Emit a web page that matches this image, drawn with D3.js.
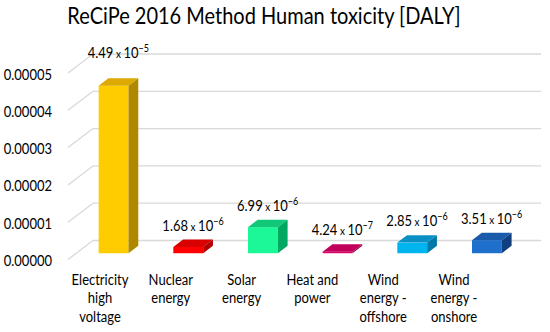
<!DOCTYPE html>
<html>
<head>
<meta charset="utf-8">
<script src="https://cdn.jsdelivr.net/npm/d3@7"></script>
<style>
    body { margin: 0; background: #fff; }
    text { font-family: Lato, "Noto Sans", sans-serif; fill: #000; }
</style>
</head>
<body>
<svg id="chart" width="550" height="332"></svg>
<script>
'use strict';

// data
let categories = ["Electricity high voltage", "Nuclear energy", "Solar energy",
    "Heat and power", "Wind energy - offshore", "Wind energy - onshore"]
let categoryLines = [["Electricity", "high", "voltage"], ["Nuclear", "energy"], ["Solar", "energy"],
    ["Heat and", "power"], ["Wind", "energy -", "offshore"], ["Wind", "energy -", "onshore"]]
let values = [4.49e-5, 1.68e-6, 6.99e-6, 4.24e-7, 2.85e-6, 3.51e-6]
let mantissas = ["4.49", "1.68", "6.99", "4.24", "2.85", "3.51"]
let exponents = ["−5", "−6", "−6", "−7", "−6", "−6"]
let yTicks = [0, 0.00001, 0.00002, 0.00003, 0.00004, 0.00005]

// front, top, side colours per bar
let colors = [
    ["#ffcc00", "#dcaa00", "#b08800"],
    ["#ff0000", "#d80000", "#b00000"],
    ["#1cf898", "#10c878", "#00a862"],
    ["#e0006a", "#c0005a", "#a0004a"],
    ["#00b4f0", "#0a90c4", "#0078a8"],
    ["#1f70cc", "#1a5aaa", "#103f80"]
]

let svg = d3.select("#chart")

// the picture's text is a bit taller than wide, stretch it about its baseline
let stretch = 1.2
function stretchText(sel) {
    sel.attr("transform", function() {
        let by = +d3.select(this).attr("y") || 0
        return "translate(0," + by + ") scale(1," + stretch + ") translate(0," + (-by) + ")"
    })
}

// 3d depth vector of the plot box
let depthX = 25
let depthY = -19
let barFront = 0.33
let barBack = 0.72

let x = d3.scaleBand()
    .domain(categories)
    .range([68, 516])
    .paddingInner(0.6)
    .paddingOuter(0.3)

let y = d3.scaleLinear()
    .domain([0, 0.00005])
    .range([259.5, 73])

let labelX = d3.scalePoint()
    .domain(categories)
    .range([100, 454])

// title
svg.append("text")
    .attr("x", 264)
    .attr("y", 24)
    .attr("text-anchor", "middle")
    .style("font-size", "20px")
    .text("ReCiPe 2016 Method Human toxicity [DALY]")
    .call(stretchText)

// back wall gridlines and left wall diagonals
let grid = svg.append("g").attr("class", "grid")
grid.selectAll("line.back")
    .data(yTicks)
    .enter().append("line")
    .attr("class", "back")
    .attr("x1", 68 + depthX)
    .attr("x2", 541)
    .attr("y1", function(d) { return y(d) + depthY; })
    .attr("y2", function(d) { return y(d) + depthY; })
    .attr("stroke", "#d9d9d9")
    .attr("stroke-width", 1.3)

grid.selectAll("line.side")
    .data(yTicks)
    .enter().append("line")
    .attr("class", "side")
    .attr("x1", 68)
    .attr("x2", 68 + depthX)
    .attr("y1", function(d) { return y(d); })
    .attr("y2", function(d) { return y(d) + depthY; })
    .attr("stroke", "#d9d9d9")
    .attr("stroke-width", 1.3)

// y axis labels
let yAxis = d3.axisLeft(y)
    .tickValues(yTicks)
    .tickFormat(d3.format(".5f"))
    .tickSize(0)
    .tickPadding(0)

let axisG = svg.append("g")
    .attr("transform", "translate(52,1)")
    .call(yAxis)
axisG.select(".domain").remove()
axisG.selectAll("text")
    .style("font-family", "Lato, 'Noto Sans', sans-serif")
    .style("font-size", "13px")
    .attr("fill", "#000")
    .attr("transform", "scale(1," + stretch + ")")

// bars
let bars = svg.append("g").attr("class", "bars")
    .selectAll("g")
    .data(categories)
    .enter().append("g")

function pt(px, py) { return px + "," + py; }

bars.each(function(c, i) {
    let g = d3.select(this)
    let x1 = x(c) + depthX * barFront
    let x2 = x1 + x.bandwidth()
    let yb = y(0) + depthY * barFront
    let yt = y(values[i]) + depthY * barFront
    let dx = depthX * (barBack - barFront)
    let dy = depthY * (barBack - barFront)

    g.append("polygon")
        .attr("points", [pt(x1, yt), pt(x2, yt), pt(x2, yb), pt(x1, yb)].join(" "))
        .attr("fill", colors[i][0])
    g.append("polygon")
        .attr("points", [pt(x1, yt), pt(x1 + dx, yt + dy), pt(x2 + dx, yt + dy), pt(x2, yt)].join(" "))
        .attr("fill", colors[i][1])
    g.append("polygon")
        .attr("points", [pt(x2, yt), pt(x2 + dx, yt + dy), pt(x2 + dx, yb + dy), pt(x2, yb)].join(" "))
        .attr("fill", colors[i][2])
})

// value labels, the tall bar's label sits a bit higher
let labelNudge = [-11, 0, 0, 0, 0, 0]
let valueLabels = svg.append("g").attr("class", "value-labels")
    .selectAll("text")
    .data(categories)
    .enter().append("text")
    .attr("x", function(d) { return x(d) + x.bandwidth() / 2 + depthX * 0.52; })
    .attr("y", function(d, i) { return y(values[i]) + depthY * barBack - 9 + labelNudge[i]; })
    .attr("text-anchor", "middle")
    .style("font-size", "13px")
    .call(stretchText)

valueLabels.append("tspan").text(function(d, i) { return mantissas[i]; })
valueLabels.append("tspan").style("font-size", "10px").text(" x ")
valueLabels.append("tspan").text("10")
valueLabels.append("tspan")
    .attr("dy", -5)
    .style("font-size", "9px")
    .text(function(d, i) { return exponents[i]; })

// category labels, one text per line so each stretches on its own baseline
let catLabels = svg.append("g").attr("class", "categories")
    .selectAll("g")
    .data(categories)
    .enter().append("g")

catLabels.selectAll("text")
    .data(function(d, i) { return categoryLines[i].map(function(line) { return {cat: d, line: line}; }); })
    .enter().append("text")
    .attr("text-anchor", "middle")
    .style("font-size", "13px")
    .attr("x", function(d) { return labelX(d.cat); })
    .attr("y", function(d, j) { return 285 + j * 18.5; })
    .text(function(d) { return d.line; })
    .call(stretchText)
</script>
</body>
</html>
